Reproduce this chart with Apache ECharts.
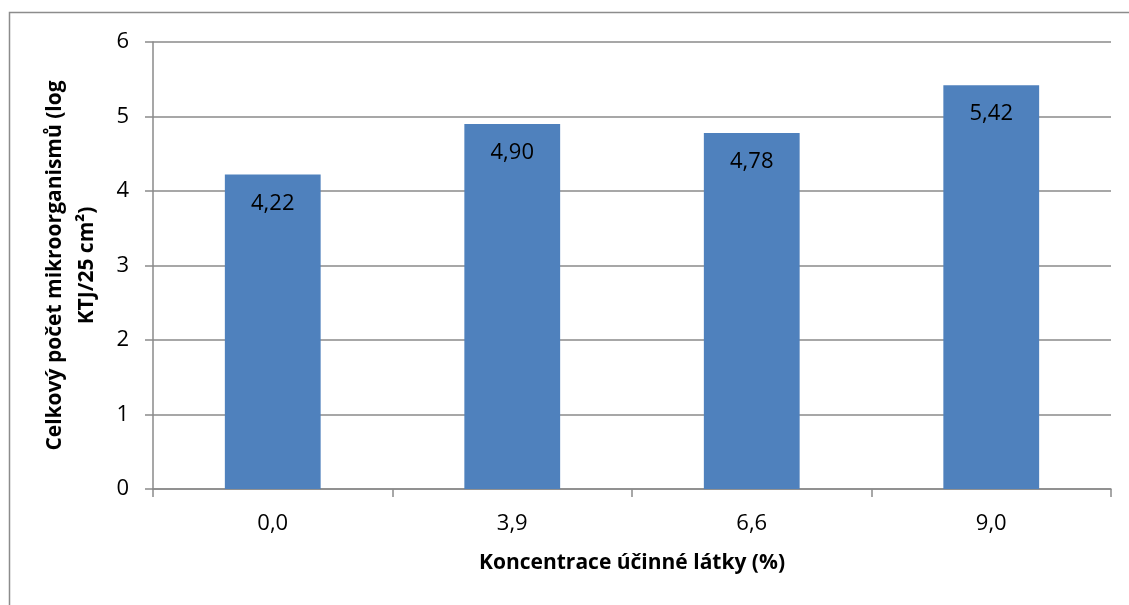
<!DOCTYPE html>
<html>
<head>
<meta charset="utf-8">
<script src="https://cdn.jsdelivr.net/npm/echarts@6/dist/echarts.min.js"></script>
<style>
  html, body { margin: 0; padding: 0; background: #fff; }
  #chart { width: 1129px; height: 605px; }
</style>
</head>
<body>
<div id="chart"></div>
<script>
// Concentration of active substance (%) and total microbial count (log CFU/25 cm²)
const categories = ['0,0', '3,9', '6,6', '9,0'];
const counts = [4.22, 4.90, 4.78, 5.42];
const yTicks = [0, 1, 2, 3, 4, 5, 6];

const FONT = '"Open Sans", "Liberation Sans", sans-serif';
const GRID_COLOR = '#8a8a8a';

const chart = echarts.init(document.getElementById('chart'), null, { renderer: 'canvas' });

chart.setOption({
  animation: false,
  backgroundColor: '#ffffff',
  graphic: [{
    type: 'rect',
    shape: { x: 9.5, y: 12.5, width: 1130, height: 600 },
    style: { fill: 'none', stroke: '#8c8c8c', lineWidth: 1.5 },
    silent: true
  }],
  grid: { left: 153, right: 18, top: 42, bottom: 116, containLabel: false },
  xAxis: {
    type: 'category',
    data: categories,
    boundaryGap: true,
    name: 'Koncentrace účinné látky (%)',
    nameLocation: 'middle',
    nameGap: 64,
    nameTextStyle: { fontFamily: FONT, fontSize: 21, fontWeight: 'bold', color: '#000' },
    axisLine: { show: true, lineStyle: { color: GRID_COLOR, width: 1.5 } },
    axisTick: { show: true, alignWithLabel: false, length: 8, lineStyle: { color: GRID_COLOR, width: 1.5 } },
    axisLabel: { fontFamily: FONT, fontSize: 22, color: '#000', margin: 24 }
  },
  yAxis: {
    type: 'value',
    min: yTicks[0],
    max: yTicks[yTicks.length - 1],
    interval: 1,
    name: 'Celkový počet mikroorganismů (log\nKTJ/25 cm²)',
    nameLocation: 'middle',
    nameGap: 50,
    nameRotate: 90,
    nameTextStyle: { fontFamily: FONT, fontSize: 21, fontWeight: 'bold', color: '#000', lineHeight: 32, align: 'center' },
    axisLine: { show: true, lineStyle: { color: GRID_COLOR, width: 1.5 } },
    axisTick: { show: true, length: 8, lineStyle: { color: GRID_COLOR, width: 1.5 } },
    axisLabel: { fontFamily: FONT, fontSize: 22, color: '#000', margin: 24 },
    splitLine: { show: true, lineStyle: { color: GRID_COLOR, width: 1.5 } }
  },
  series: [{
    type: 'bar',
    data: counts,
    barWidth: '40%',
    itemStyle: { color: '#4f81bd' },
    label: {
      show: true,
      position: 'insideTop',
      distance: 18,
      fontFamily: FONT,
      fontSize: 22,
      color: '#000',
      formatter: p => p.value.toFixed(2).replace('.', ',')
    }
  }]
});
</script>
</body>
</html>
